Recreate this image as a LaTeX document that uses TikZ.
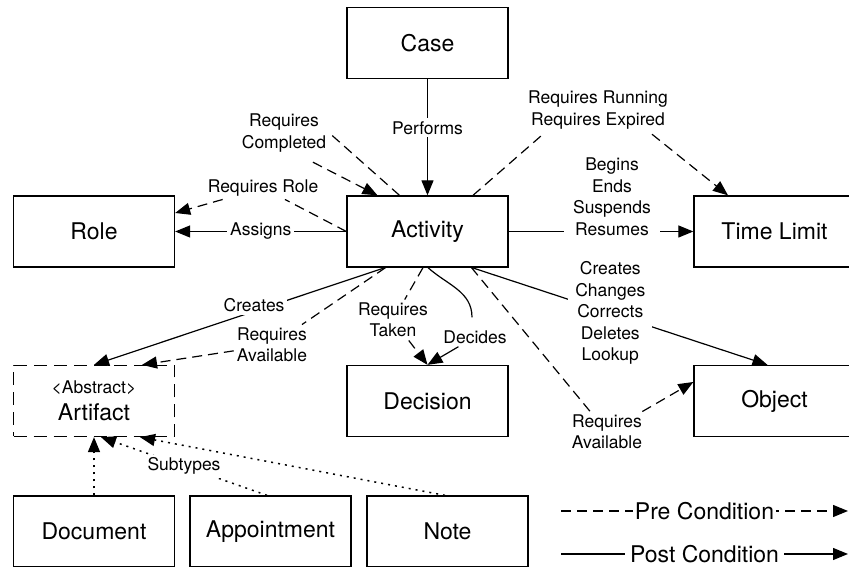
\documentclass[tikz,border=0pt]{standalone}
\usepackage{fontspec}
\setmainfont{TeX Gyre Heros}
\usetikzlibrary{arrows.meta,calc}

\begin{document}
\begin{tikzpicture}[x=1pt,y=1pt,
    >={Triangle[length=15pt,width=12pt]},
    box/.style={draw,line width=1.3pt,minimum width=161pt,minimum height=71pt,
      inner sep=0pt,align=center,font=\fontsize{23}{27}\selectfont},
    lbl/.style={align=center,inner sep=3pt,font=\fontsize{17.5}{21.5}\selectfont},
    post/.style={line width=1.2pt},
    pre/.style={line width=1.2pt,dash pattern=on 10pt off 6pt},
    sub/.style={line width=1.5pt,dash pattern=on 2pt off 5pt}]
    \clip (0,0) rectangle (849,567);
    \node[box] (case) at (427.5,524) {Case};
    \node[box] (activity) at (427.5,335.5) {Activity};
    \node[box] (role) at (94,335.5) {Role};
    \node[box] (timelimit) at (774.5,335.5) {Time Limit};
    \node[box,dash pattern=on 13pt off 7pt] (artifact) at (94,166)
      {{\fontsize{17.5}{21}\selectfont <Abstract>}\\Artifact};
    \node[box] (decision) at (427.5,166) {Decision};
    \node[box] (object) at (774.5,166) {Object};
    \node[box] (document) at (94,35.5) {Document};
    \node[box] (appointment) at (270.5,35.5) {Appointment};
    \node[box] (note) at (447.5,35.5) {Note};

    \node[lbl] (reqrole) at (263,379) {Requires Role};
    \node[lbl] (reqcompl) at (284,434) {Requires\\Completed};
    \node[lbl] (reqrun) at (598,457) {Requires Running\\Requires Expired};
    \node[lbl] (reqavaila) at (272,222) {Requires\\Available};
    \node[lbl] (reqtaken) at (393,247) {Requires\\Taken};
    \node[lbl] (decides) at (475,230) {Decides};
    \node[lbl] (reqavailb) at (607,135) {Requires\\Available};

    \draw[post,->] (case) -- node[lbl,fill=white,pos=0.42] (performs) {Performs} (activity);
    \draw[post,->] (activity) -- node[lbl,fill=white] (assigns) {Assigns} (role);
    \draw[pre,->] (activity.west) -- (reqrole) -- ($(role.east)+(0,18.5)$);
    \draw[pre] ($(activity.north)+(-28,0)$) -- (reqcompl.east);
    \draw[pre,->] ($(reqcompl.south)+(29,-7)$) -- ($(activity.north)+(-50,0)$);
    \draw[pre] ($(activity.north)+(45.5,0)$) -- ($(reqrun.south west)+(18,-2)$);
    \draw[pre,->] ($(reqrun.south east)+(-19,-2)$) -- ($(timelimit.north)+(-46.5,0)$);
    \draw[post,->] (activity) -- (timelimit);
    \node[lbl,fill=white,inner xsep=9pt] (lifecycle) at (612,370) {Begins\\Ends\\Suspends\\Resumes};
    \draw[post,->] ($(activity.south)+(44.5,0)$) -- node[lbl,fill=white,pos=0.468,inner xsep=7pt] (changes)
      {Creates\\Changes\\Corrects\\Deletes\\Lookup} ($(object.north)+(-7,0)$);
    \draw[post,->] ($(activity.south)+(-42.5,0)$) -- node[lbl,fill=white,pos=0.45,yshift=6pt] (creates)
      {Creates} (artifact.north);
    \draw[pre,->] ($(activity.south)+(-42,0)$) -- (reqavaila) -- ($(artifact.north)+(48,0)$);
    \draw[pre,->] ($(activity.south)+(-4.5,0)$) -- (reqtaken) -- (decision.north);
    \draw[post] ($(activity.south)+(0.5,0)$) to[out=-42,in=90] ($(decides.north)+(-3,10)$);
    \draw[post,->] (decides) -- (decision.north);
    \draw[pre,->] ($(activity.south)+(44,0)$) -- (reqavailb) -- ($(object.west)+(0,19)$);
    \draw[sub,->] (document) -- (artifact);
    \draw[sub,->] ($(appointment.north)+(-3.5,0)$) -- node[lbl,fill=white] (subtypes) {Subtypes}
      ($(artifact.south)+(7,0)$);
    \draw[sub,->] ($(note.north)+(-2.5,0)$) -- ($(artifact.south)+(46,0)$);

    \coordinate (prea) at (561,56);
    \coordinate (preb) at (848,56);
    \coordinate (posta) at (561,13);
    \coordinate (postb) at (848,13);
    \draw[pre,->] (prea) -- node[fill=white,inner sep=2pt,font=\fontsize{23}{27}\selectfont] (prelbl)
      {Pre Condition} (preb);
    \draw[post,->] (posta) -- node[fill=white,inner sep=5pt,font=\fontsize{23}{27}\selectfont] (postlbl)
      {Post Condition} (postb);
\end{tikzpicture}
\end{document}
